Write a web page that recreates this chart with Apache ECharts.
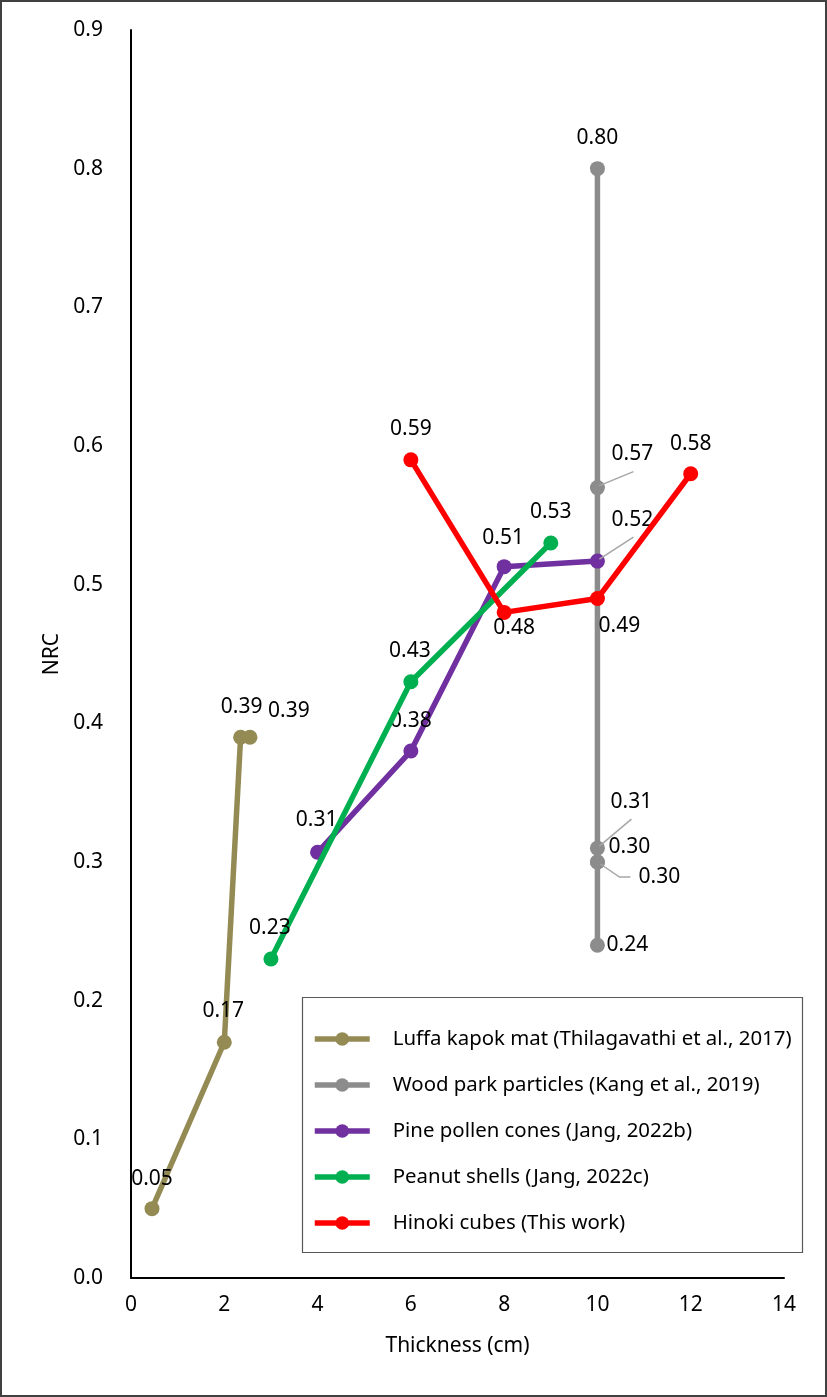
<!DOCTYPE html>
<html><head><meta charset="utf-8">
<script src="https://cdn.jsdelivr.net/npm/echarts@6/dist/echarts.min.js"></script>
<style>html,body{margin:0;padding:0;background:#fff}#c{width:827px;height:1397px}</style>
</head><body><div id="c"></div>
<script>
// ---- data ----
const seriesNames = [
  'Luffa kapok mat (Thilagavathi et al., 2017)',
  'Wood park particles (Kang et al., 2019)',
  'Pine pollen cones (Jang, 2022b)',
  'Peanut shells (Jang, 2022c)',
  'Hinoki cubes (This work)'
];
const luffaX = [0.45, 2.0, 2.35, 2.55];
const luffaY = [0.05, 0.17, 0.39, 0.39];
const woodX = [10, 10, 10, 10, 10, 10];
const woodY = [0.80, 0.57, 0.31, 0.30, 0.30, 0.24];
const pineX = [4, 6, 8, 10];
const pineY = [0.307, 0.38, 0.513, 0.517];
const peanutX = [3, 6, 9];
const peanutY = [0.23, 0.43, 0.53];
const hinokiX = [6, 8, 10, 12];
const hinokiY = [0.59, 0.48, 0.49, 0.58];
const xTicks = [0, 2, 4, 6, 8, 10, 12, 14];
const yTicks = [0.0, 0.1, 0.2, 0.3, 0.4, 0.5, 0.6, 0.7, 0.8, 0.9];

// ---- label placement (pixels relative to the point) ----
const luffaLab = [[0,-30],[-1,-31],[1,-30],[39,-26]];
const woodLab = [[0,-31],[35,-34],[34,-46],[32,-15],[62,15],[30,0]];
const pineLab = [[-1,-32],[0,-30],[-1,-29],[35,-41]];
const peanutLab = [[-1,-31],[-1,-31],[0,-31]];
const hinokiLab = [[0,-31],[10,16],[22,27],[0,-30]];
// leader lines: [seriesIndex, pointIndex, polyline relative to point]
const leaders = [
  [1, 1, [[36,-16],[2,-2]]],
  [1, 2, [[34,-29],[2,-2]]],
  [1, 4, [[33,15],[22,15],[3,2]]],
  [2, 3, [[36,-24],[2,-2]]]
];

const FONT = 'Noto Sans';
const colors = ['#948A54', '#8C8C8C', '#7030A0', '#00B050', '#FF0000'];

const all = [
  [luffaX, luffaY, luffaLab],
  [woodX, woodY, woodLab],
  [pineX, pineY, pineLab],
  [peanutX, peanutY, peanutLab],
  [hinokiX, hinokiY, hinokiLab]
];

const series = all.map((s, k) => ({
  name: seriesNames[k],
  type: 'line',
  data: s[0].map((x, i) => [x, s[1][i]]),
  symbol: 'circle',
  symbolSize: 15,
  lineStyle: { width: 5.5, color: colors[k] },
  itemStyle: { color: colors[k] },
  label: {
    show: true,
    position: 'inside',
    align: 'center',
    verticalAlign: 'middle',
    fontFamily: FONT,
    fontSize: 21,
    color: '#000',
    formatter: p => p.value[1].toFixed(2)
  },
  labelLayout: function (p) {
    const o = all[p.seriesIndex][2][p.dataIndex];
    return { dx: o[0], dy: o[1], hideOverlap: false };
  },
  emphasis: { disabled: true },
  z: 2 + k
}));

const chart = echarts.init(document.getElementById('c'), null, { renderer: 'canvas' });
const option = {
  animation: false,
  backgroundColor: '#fff',
  grid: { left: 131, right: 43, top: 30, bottom: 119 },
  xAxis: {
    type: 'value', min: xTicks[0], max: xTicks[xTicks.length - 1], interval: 2,
    name: 'Thickness (cm)', nameLocation: 'middle', nameGap: 58,
    nameTextStyle: { fontFamily: FONT, fontSize: 21, color: '#000' },
    axisLine: { show: true, lineStyle: { color: '#000', width: 2 } },
    axisTick: { show: false },
    splitLine: { show: false },
    axisLabel: { fontFamily: FONT, fontSize: 21, color: '#000', margin: 17 }
  },
  yAxis: {
    type: 'value', min: yTicks[0], max: yTicks[yTicks.length - 1], interval: 0.1,
    name: 'NRC', nameLocation: 'middle', nameGap: 68,
    nameTextStyle: { fontFamily: FONT, fontSize: 21, color: '#000' },
    axisLine: { show: true, lineStyle: { color: '#000', width: 2 } },
    axisTick: { show: false },
    splitLine: { show: false },
    axisLabel: { fontFamily: FONT, fontSize: 21, color: '#000', margin: 28, formatter: v => v.toFixed(1) }
  },
  legend: {
    orient: 'vertical', left: 302, top: 997,
    padding: [30, 10, 18, 10],
    itemGap: 22, itemWidth: 55, itemHeight: 17,
    lineStyle: { width: 5.5 },
    textStyle: { fontFamily: FONT, fontSize: 20.4, color: '#000', lineHeight: 24, padding: [0, 0, 0, 18] },
    data: seriesNames
  },
  series: series
};
chart.setOption(option);

// frame, legend box and leader lines
const g = [
  { type: 'rect', shape: { x: 1, y: 1, width: 825, height: 1395 }, style: { fill: null, stroke: '#404040', lineWidth: 2 }, z: 0 },
  { type: 'rect', shape: { x: 302.5, y: 997.5, width: 500, height: 255 }, style: { fill: null, stroke: '#595959', lineWidth: 1.2 }, z: 10 }
];
leaders.forEach(([si, pi, rel]) => {
  const s = all[si];
  const p = chart.convertToPixel({ seriesIndex: si }, [s[0][pi], s[1][pi]]);
  g.push({
    type: 'polyline',
    shape: { points: rel.map(r => [p[0] + r[0], p[1] + r[1]]) },
    style: { stroke: '#A6A6A6', lineWidth: 1.5, fill: null },
    z: 20
  });
});
chart.setOption({ graphic: g });
</script>
</body></html>
